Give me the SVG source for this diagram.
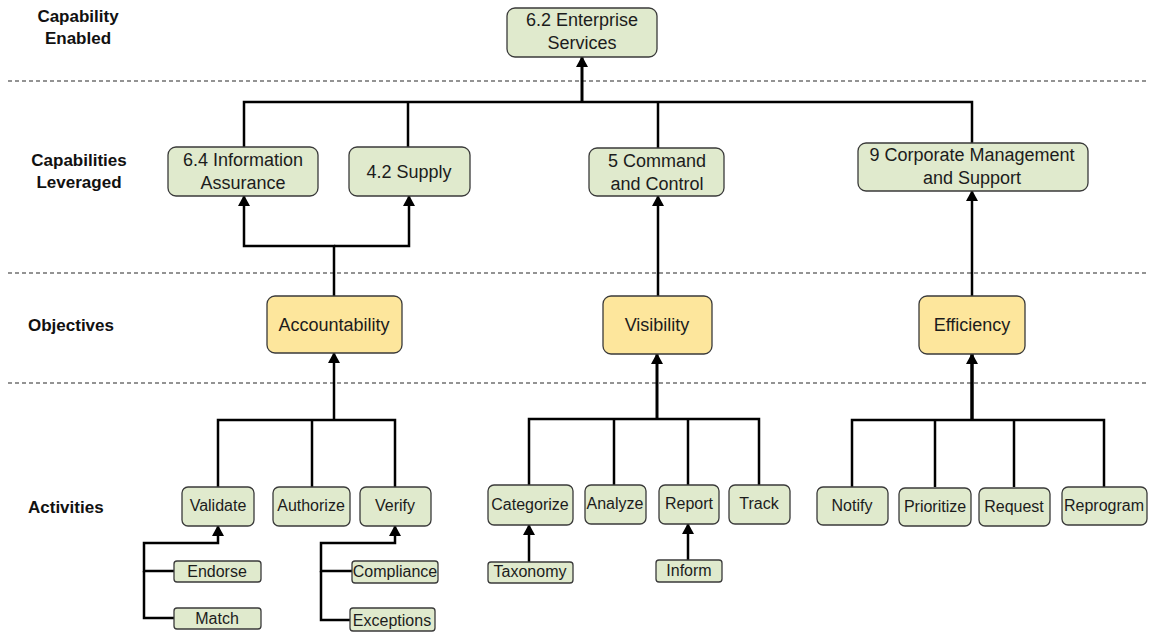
<svg xmlns="http://www.w3.org/2000/svg" width="1151" height="634" viewBox="0 0 1151 634">
  <style>
    .band { font-family: "Liberation Sans", Arial, sans-serif; font-weight: bold; font-size: 17px; fill: #111; }
    .lbl { font-family: "Liberation Sans", Arial, sans-serif; font-size: 16px; fill: #1c1c1c; text-anchor: middle; }
    .big { font-size: 18px; }
    .cap { fill: #e0eacd; stroke: #3a3a3a; stroke-width: 1.3; }
    .obj { fill: #fde69c; stroke: #3a3a3a; stroke-width: 1.3; }
    .sep { stroke: #707070; stroke-width: 1.3; stroke-dasharray: 4 3; fill: none; }
    .wire { stroke: #000; stroke-width: 2.5; fill: none; stroke-linejoin: miter; }
    .arrow { marker-end: url(#tip); }
  </style>
  <defs>
    <marker id="tip" markerUnits="userSpaceOnUse" markerWidth="12" markerHeight="12" refX="10" refY="6" orient="auto">
      <path d="M0,0 L11,6 L0,12 z" fill="#000"/>
    </marker>
  </defs>
  <rect width="1151" height="634" fill="#fff"/>

  <!-- swimlane separators -->
  <g id="separators">
    <line class="sep" x1="8" y1="81" x2="1148" y2="81"/>
    <line class="sep" x1="8" y1="273" x2="1148" y2="273"/>
    <line class="sep" x1="8" y1="383" x2="1148" y2="383"/>
  </g>

  <!-- lane titles -->
  <g id="lane-titles">
    <text class="band" x="78" y="22" text-anchor="middle">Capability</text>
    <text class="band" x="78" y="44" text-anchor="middle">Enabled</text>
    <text class="band" x="79" y="166" text-anchor="middle">Capabilities</text>
    <text class="band" x="79" y="188" text-anchor="middle">Leveraged</text>
    <text class="band" x="28" y="331">Objectives</text>
    <text class="band" x="28" y="513">Activities</text>
  </g>

  <!-- connectors -->
  <g id="connectors">
    <path class="wire" d="M244,147 V102 H972 V143"/>
    <path class="wire" d="M408,147 V102"/>
    <path class="wire" d="M658,148 V102"/>
    <path class="wire arrow" style="stroke-width:3" d="M582,102 V57"/>

    <path class="wire arrow" d="M334,296 V246 H244 V196"/>
    <path class="wire arrow" d="M334,246 H409 V196"/>
    <path class="wire arrow" d="M658,296 V196"/>
    <path class="wire arrow" d="M972,296 V191"/>

    <path class="wire" d="M218,487 V420 H395 V487"/>
    <path class="wire" d="M312,487 V420"/>
    <path class="wire arrow" d="M334,420 V353"/>

    <path class="wire" d="M529,485 V419 H759 V485"/>
    <path class="wire" d="M614,485 V419"/>
    <path class="wire" d="M688,485 V419"/>
    <path class="wire arrow" style="stroke-width:3" d="M657,419 V354"/>

    <path class="wire" d="M852,487 V420 H1104 V487"/>
    <path class="wire" d="M935,487 V420"/>
    <path class="wire" d="M1014,487 V420"/>
    <path class="wire arrow" style="stroke-width:3.5" d="M972,420 V354"/>

    <path class="wire arrow" d="M174,571 H144 V543 H218 V526"/>
    <path class="wire" d="M144,571 V618 H174"/>
    <path class="wire arrow" d="M352,571 H321 V543 H395 V526"/>
    <path class="wire" d="M321,571 V620 H350"/>

    <path class="wire arrow" d="M529,562 V525"/>
    <path class="wire arrow" d="M688,560 V524"/>
  </g>

  <!-- capability enabled -->
  <g id="cap-6-2">
    <rect class="cap" x="507" y="8" width="150" height="49" rx="8"/>
    <text class="lbl big" x="582" y="26">6.2 Enterprise</text>
    <text class="lbl big" x="582" y="49">Services</text>
  </g>

  <!-- capabilities leveraged -->
  <g id="cap-6-4">
    <rect class="cap" x="168" y="147" width="150" height="49" rx="8"/>
    <text class="lbl big" x="243" y="166">6.4 Information</text>
    <text class="lbl big" x="243" y="189">Assurance</text>
  </g>
  <g id="cap-4-2">
    <rect class="cap" x="349" y="147" width="121" height="49" rx="8"/>
    <text class="lbl big" x="409" y="178">4.2 Supply</text>
  </g>
  <g id="cap-5">
    <rect class="cap" x="589" y="148" width="135" height="48" rx="8"/>
    <text class="lbl big" x="657" y="167">5 Command</text>
    <text class="lbl big" x="657" y="190">and Control</text>
  </g>
  <g id="cap-9">
    <rect class="cap" x="858" y="143" width="230" height="48" rx="8"/>
    <text class="lbl big" x="972" y="161">9 Corporate Management</text>
    <text class="lbl big" x="972" y="184">and Support</text>
  </g>

  <!-- objectives -->
  <g id="obj-accountability">
    <rect class="obj" x="267" y="296" width="135" height="57" rx="8"/>
    <text class="lbl big" x="334" y="331">Accountability</text>
  </g>
  <g id="obj-visibility">
    <rect class="obj" x="603" y="296" width="109" height="58" rx="8"/>
    <text class="lbl big" x="657" y="331">Visibility</text>
  </g>
  <g id="obj-efficiency">
    <rect class="obj" x="919" y="296" width="106" height="58" rx="8"/>
    <text class="lbl big" x="972" y="331">Efficiency</text>
  </g>

  <!-- activities -->
  <g id="act-validate">
    <rect class="cap" x="182" y="487" width="72" height="39" rx="6"/>
    <text class="lbl" x="218" y="511">Validate</text>
  </g>
  <g id="act-authorize">
    <rect class="cap" x="273" y="487" width="77" height="39" rx="6"/>
    <text class="lbl" x="311" y="511">Authorize</text>
  </g>
  <g id="act-verify">
    <rect class="cap" x="360" y="487" width="71" height="39" rx="6"/>
    <text class="lbl" x="395" y="511">Verify</text>
  </g>
  <g id="act-categorize">
    <rect class="cap" x="488" y="485" width="85" height="40" rx="6"/>
    <text class="lbl" x="530" y="510">Categorize</text>
  </g>
  <g id="act-analyze">
    <rect class="cap" x="585" y="485" width="61" height="39" rx="6"/>
    <text class="lbl" x="615" y="509">Analyze</text>
  </g>
  <g id="act-report">
    <rect class="cap" x="659" y="485" width="60" height="39" rx="6"/>
    <text class="lbl" x="689" y="509">Report</text>
  </g>
  <g id="act-track">
    <rect class="cap" x="729" y="485" width="61" height="39" rx="6"/>
    <text class="lbl" x="759" y="509">Track</text>
  </g>
  <g id="act-notify">
    <rect class="cap" x="817" y="487" width="71" height="38" rx="6"/>
    <text class="lbl" x="852" y="511">Notify</text>
  </g>
  <g id="act-prioritize">
    <rect class="cap" x="899" y="488" width="72" height="38" rx="6"/>
    <text class="lbl" x="935" y="512">Prioritize</text>
  </g>
  <g id="act-request">
    <rect class="cap" x="979" y="488" width="71" height="38" rx="6"/>
    <text class="lbl" x="1014" y="512">Request</text>
  </g>
  <g id="act-reprogram">
    <rect class="cap" x="1062" y="487" width="85" height="38" rx="6"/>
    <text class="lbl" x="1104" y="511">Reprogram</text>
  </g>

  <!-- sub-activities -->
  <g id="sub-endorse">
    <rect class="cap" x="174" y="561" width="87" height="21" rx="3"/>
    <text class="lbl" x="217" y="577">Endorse</text>
  </g>
  <g id="sub-match">
    <rect class="cap" x="174" y="608" width="87" height="21" rx="3"/>
    <text class="lbl" x="217" y="624">Match</text>
  </g>
  <g id="sub-compliance">
    <rect class="cap" x="352" y="561" width="86" height="22" rx="3"/>
    <text class="lbl" x="395" y="577">Compliance</text>
  </g>
  <g id="sub-exceptions">
    <rect class="cap" x="350" y="608" width="85" height="23" rx="3"/>
    <text class="lbl" x="392" y="626">Exceptions</text>
  </g>
  <g id="sub-taxonomy">
    <rect class="cap" x="488" y="562" width="85" height="21" rx="3"/>
    <text class="lbl" x="530" y="577">Taxonomy</text>
  </g>
  <g id="sub-inform">
    <rect class="cap" x="656" y="560" width="66" height="22" rx="3"/>
    <text class="lbl" x="689" y="576">Inform</text>
  </g>
</svg>
